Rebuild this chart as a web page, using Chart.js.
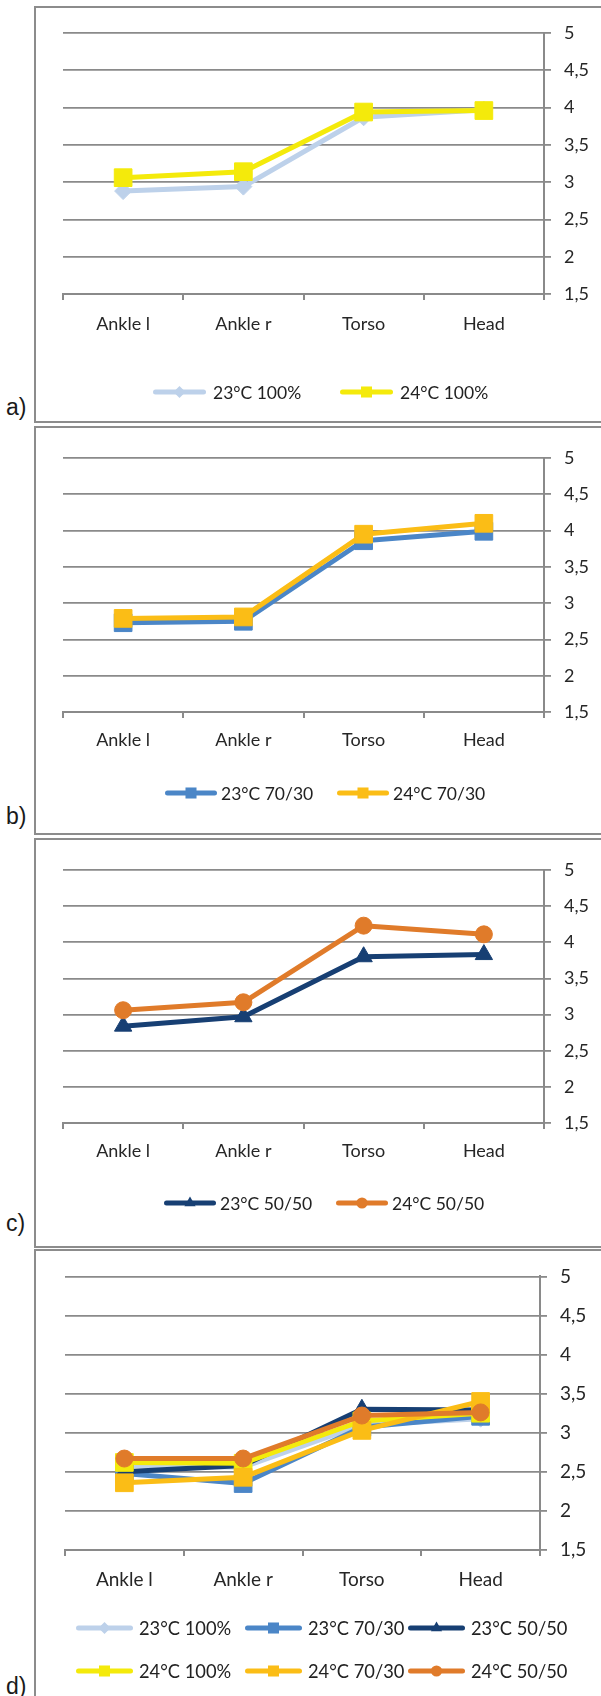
<!DOCTYPE html>
<html><head><meta charset="utf-8">
<script src="https://cdn.jsdelivr.net/npm/chart.js@4.4.1/dist/chart.umd.min.js"></script>
<style>
html,body{margin:0;padding:0;background:#fff;}
body{width:601px;height:1696px;overflow:hidden;position:relative;}
.box{position:absolute;left:34px;width:620px;border:2px solid #8c8c8c;box-sizing:border-box;}
.lab{position:absolute;left:6px;font-family:'Liberation Sans',Arial,sans-serif;font-size:23px;line-height:23px;color:#1a1a1a;}
canvas{position:absolute;left:37px;}
</style></head><body>
<div class="box" style="top:6px;height:417px"></div>
<div class="box" style="top:426px;height:409px"></div>
<div class="box" style="top:838px;height:410px"></div>
<div class="box" style="top:1249px;height:520px"></div>
<div class="lab" style="top:396px">a)</div>
<div class="lab" style="top:805px">b)</div>
<div class="lab" style="top:1212px">c)</div>
<div class="lab" style="top:1675px">d)</div>
<canvas id="ca" width="564" height="411" style="top:9px;width:564px;height:411px"></canvas>
<canvas id="cb" width="564" height="403" style="top:429px;width:564px;height:403px"></canvas>
<canvas id="cc" width="564" height="403" style="top:841px;width:564px;height:403px"></canvas>
<canvas id="cd" width="564" height="444" style="top:1252px;width:564px;height:444px"></canvas>
<script>
// ---- data ----
const categories = ['Ankle l', 'Ankle r', 'Torso', 'Head'];
const yMin = 1.5, yMax = 5, yStep = 0.5;

const a_23_100  = [2.88, 2.94, 3.87, 3.97];
const a_24_100  = [3.06, 3.14, 3.94, 3.96];

const b_23_7030 = [2.73, 2.75, 3.86, 3.99];
const b_24_7030 = [2.79, 2.81, 3.95, 4.10];

const c_23_5050 = [2.84, 2.97, 3.80, 3.83];
const c_24_5050 = [3.06, 3.17, 4.23, 4.11];

const d_23_100  = [2.58, 2.56, 3.10, 3.18];
const d_23_7030 = [2.48, 2.35, 3.07, 3.21];
const d_23_5050 = [2.50, 2.58, 3.30, 3.29];
const d_24_100  = [2.62, 2.61, 3.15, 3.25];
const d_24_7030 = [2.36, 2.43, 3.03, 3.40];
const d_24_5050 = [2.67, 2.67, 3.22, 3.26];

// ---- styles ----
const S = {
  '23°C 100%':  {color:'#BDD1EA', style:'rectRot',  r:8.5,  lr:6},
  '24°C 100%':  {color:'#F4EA0B', style:'rect',     r:12.5, lr:7.8},
  '23°C 70/30': {color:'#4B86C7', style:'rect',     r:12.5, lr:7.8},
  '24°C 70/30': {color:'#FBBD16', style:'rect',     r:12.5, lr:7.8},
  '23°C 50/50': {color:'#173F73', style:'triangle', r:10,   lr:6.5},
  '24°C 50/50': {color:'#E07B2A', style:'circle',   r:8.5,  lr:5.6}
};

function shape(ctx, style, x, y, r){
  ctx.beginPath();
  if(style==='circle'){ ctx.arc(x,y,r,0,Math.PI*2); }
  else if(style==='rect'){ const s=r*Math.SQRT1_2; ctx.rect(x-s,y-s,2*s,2*s); }
  else if(style==='rectRot'){ ctx.moveTo(x-r,y); ctx.lineTo(x,y-r); ctx.lineTo(x+r,y); ctx.lineTo(x,y+r); ctx.closePath(); }
  else if(style==='triangle'){ ctx.moveTo(x,y-r); ctx.lineTo(x+r*0.866,y+r*0.5); ctx.lineTo(x-r*0.866,y+r*0.5); ctx.closePath(); }
  ctx.fill();
}

const legendPlugin = {
  id:'customLegend',
  afterDraw(chart, args, opts){
    const ctx = chart.ctx;
    ctx.save();
    chart.data.datasets.forEach((ds,i)=>{
      const it = opts.items[i]; if(!it) return;
      const st = S[ds.label];
      const x = it[0], y = it[1], len = opts.len;
      ctx.strokeStyle = st.color; ctx.fillStyle = st.color;
      ctx.lineWidth = 5; ctx.lineCap = 'round';
      ctx.beginPath(); ctx.moveTo(x+2.5,y); ctx.lineTo(x+len-2.5,y); ctx.stroke();
      shape(ctx, st.style, x+len/2, y, st.lr);
      ctx.fillStyle = '#222';
      ctx.font = opts.fs + 'px Lato';
      ctx.textBaseline = 'middle'; ctx.textAlign = 'left';
      ctx.fillText(ds.label, x+len+opts.gap, y+1);
    });
    ctx.restore();
  }
};

function makeChart(id, series, cfg){
  const n = series.length;
  return new Chart(document.getElementById(id), {
    type:'line',
    data:{
      labels: categories,
      datasets: series.map((s,i)=>{
        const st = S[s[0]];
        return {
          label:s[0], data:s[1],
          borderColor:st.color, backgroundColor:st.color,
          pointStyle:st.style, pointRadius:st.r, pointHoverRadius:st.r,
          pointBackgroundColor:st.color, pointBorderColor:st.color, pointBorderWidth:1,
          borderWidth:5, tension:0, borderJoinStyle:'round', order:n-i, clip:false
        };
      })
    },
    options:{
      responsive:false, animation:false, devicePixelRatio:1,
      layout:{padding:{left:cfg.pl, right:cfg.pr, top:cfg.pt, bottom:cfg.pb}},
      plugins:{legend:{display:false}, tooltip:{enabled:false},
        customLegend:{items:cfg.legend, len:cfg.len, gap:cfg.gap, fs:cfg.lfs}},
      scales:{
        x:{
          offset:true,
          grid:{offset:true, drawOnChartArea:false, drawTicks:true, tickLength:6, color:'#8a8a8a', lineWidth:2},
          border:{display:true, color:'#8a8a8a', width:2},
          ticks:{padding:cfg.xpad, color:'#262626', font:{family:'Lato', size:cfg.fs}, maxRotation:0, autoSkip:false},
          afterFit:(s)=>{ s.height = cfg.xh; }
        },
        y:{
          position:'right', min:yMin, max:yMax,
          grid:{color:'#8a8a8a', lineWidth:1.8, tickLength:7, drawTicks:true},
          border:{display:true, color:'#8a8a8a', width:2},
          ticks:{stepSize:yStep, padding:13, color:'#262626', font:{family:'Lato', size:cfg.fs},
            callback:(v)=>String(v).replace('.', ',')},
          afterFit:(s)=>{ s.width = 50; }
        }
      }
    },
    plugins:[legendPlugin]
  });
}

makeChart('ca', [['23°C 100%', a_23_100], ['24°C 100%', a_24_100]],
  {pl:26, pr:7, pt:24, pb:86, xh:40, xpad:13, fs:18, lfs:17.5, len:53, gap:7,
   legend:[[153-37, 392-9], [340-37, 392-9]]});

makeChart('cb', [['23°C 70/30', b_23_7030], ['24°C 70/30', b_24_7030]],
  {pl:26, pr:7, pt:29, pb:80, xh:40, xpad:11, fs:18, lfs:17.5, len:52, gap:4,
   legend:[[165-37, 793-429], [337-37, 793-429]]});

makeChart('cc', [['23°C 50/50', c_23_5050], ['24°C 50/50', c_24_5050]],
  {pl:26, pr:7, pt:29, pb:81, xh:40, xpad:11, fs:18, lfs:17.5, len:52, gap:4,
   legend:[[164-37, 1203-841], [336-37, 1203-841]]});

makeChart('cd', [['23°C 100%', d_23_100], ['23°C 70/30', d_23_7030], ['23°C 50/50', d_23_5050],
                 ['24°C 100%', d_24_100], ['24°C 70/30', d_24_7030], ['24°C 50/50', d_24_5050]],
  {pl:28, pr:11, pt:21, pb:106, xh:40, xpad:12, fs:19, lfs:18.3, len:57, gap:6,
   legend:[[76-37, 1628-1252], [245-37, 1628-1252], [408-37, 1628-1252],
           [76-37, 1671-1252], [245-37, 1671-1252], [408-37, 1671-1252]]});
</script>
</body></html>
